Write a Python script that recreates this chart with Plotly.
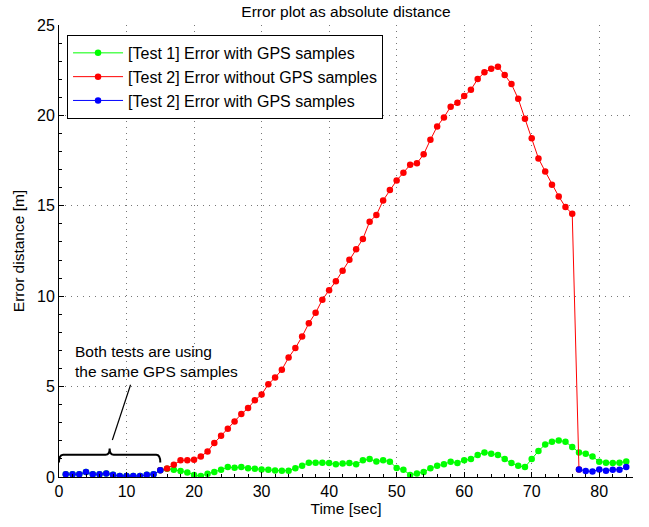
import plotly.graph_objects as go

# values
GPS_T = list(range(1, 16))
GPS_ERR = [0.15, 0.15, 0.15, 0.28, 0.15, 0.15, 0.2, 0.12, 0.06, 0.06, 0.06, 0.06, 0.12, 0.15, 0.38]

TEST1_T = list(range(1, 85))
TEST1_ERR = GPS_ERR + [
    0.45, 0.40, 0.33, 0.25, 0.11, 0.05, 0.18, 0.28, 0.40, 0.55,
    0.51, 0.55, 0.48, 0.46, 0.42, 0.40, 0.36, 0.35, 0.35, 0.48,
    0.62, 0.79, 0.79, 0.79, 0.77, 0.70, 0.75, 0.77, 0.70, 0.92,
    0.99, 0.86, 0.92, 0.85, 0.50, 0.40, 0.11, 0.20, 0.28, 0.48,
    0.62, 0.70, 0.85, 0.77, 0.92, 0.99, 1.22, 1.36, 1.29, 1.22,
    0.99, 0.77, 0.62, 0.55, 0.99, 1.44, 1.80, 1.95, 2.02, 1.95,
    1.66, 1.36, 1.29, 1.14, 0.85, 0.79, 0.77, 0.79, 0.86,
]

TEST2_NOGPS_T = list(range(15, 78))
TEST2_NOGPS_ERR = [
    0.38, 0.47, 0.68, 0.92, 0.92, 0.96, 1.14, 1.41, 1.88, 2.28,
    2.67, 3.07, 3.48, 3.81, 4.25, 4.56, 5.13, 5.50, 5.93, 6.61,
    7.13, 7.77, 8.51, 9.08, 9.81, 10.33, 10.83, 11.41, 12.01, 12.60,
    13.17, 14.12, 14.49, 15.30, 15.87, 16.40, 16.83, 17.27, 17.35, 17.85,
    18.65, 19.39, 19.89, 20.48, 20.70, 21.07, 21.42, 22.01, 22.38, 22.58,
    22.69, 22.24, 21.73, 20.92, 19.81, 18.73, 17.62, 16.90, 16.17, 15.52,
    14.93, 14.56, 0.42,
]

# None splits the two GPS-aided stretches (start and end of test 2)
TEST2_GPS_T = GPS_T + [None] + list(range(77, 85))
TEST2_GPS_ERR = GPS_ERR + [None] + [0.42, 0.33, 0.31, 0.42, 0.35, 0.40, 0.40, 0.55]

FONT = "Liberation Sans, Arial, sans-serif"

fig = go.Figure()


def add_series(x, y, color, name):
    fig.add_trace(
        go.Scatter(
            x=x,
            y=y,
            mode="lines+markers",
            name=name,
            connectgaps=False,
            line={"color": color, "width": 1},
            marker={"color": color, "size": 6.5, "line": {"width": 0}},
        ),
    )


add_series(TEST1_T, TEST1_ERR, "#00FF00", "[Test 1] Error with GPS samples")
add_series(TEST2_NOGPS_T, TEST2_NOGPS_ERR, "#FF0000", "[Test 2] Error without GPS samples")
add_series(TEST2_GPS_T, TEST2_GPS_ERR, "#0000FF", "[Test 2] Error with GPS samples")

# curly brace under the shared GPS part + pointer line
fig.add_shape(
    type="path",
    xref="x",
    yref="y",
    path="M 0,0.8 Q 0,1.23 0.6,1.23 L 6.9,1.23 Q 7.5,1.23 7.5,1.58 "
    "Q 7.5,1.23 8.1,1.23 L 14.4,1.23 Q 15,1.23 15,0.8",
    line={"color": "black", "width": 2},
)
fig.add_shape(
    type="line", xref="x", yref="y", x0=7.9, y0=2.05, x1=10.6, y1=5.1,
    line={"color": "black", "width": 1.2},
)
fig.add_annotation(
    x=2.1, y=6.4, xref="x", yref="y",
    text="Both tests are using<br>the same GPS samples",
    showarrow=False, xanchor="left", yanchor="middle", align="left",
    font={"family": FONT, "size": 15.5, "color": "black"},
)

fig.update_layout(
    width=649,
    height=527,
    autosize=False,
    hovermode=False,
    margin={"l": 59, "r": 16, "t": 25, "b": 50},
    paper_bgcolor="white",
    plot_bgcolor="white",
    font={"family": FONT, "size": 16, "color": "black"},
    title={
        "text": "Error plot as absolute distance",
        "x": 0.5, "xref": "paper", "xanchor": "center",
        "y": 1, "yref": "container", "yanchor": "top", "pad": {"t": 6},
        "font": {"size": 15.5, "family": FONT, "color": "black"},
    },
    legend={
        "x": 0.014, "y": 0.978, "xanchor": "left", "yanchor": "top",
        "bgcolor": "white", "bordercolor": "black", "borderwidth": 1,
        "font": {"size": 16, "family": FONT, "color": "black"},
        "itemwidth": 50,
    },
)

axis_common = dict(
    automargin=False,
    showline=True,
    linecolor="black",
    linewidth=1,
    ticks="inside",
    ticklen=5,
    tickcolor="black",
    showgrid=True,
    gridcolor="#777777",
    griddash="1px,5px",
    gridwidth=1,
    zeroline=False,
    tickfont={"size": 16, "family": FONT, "color": "black"},
)
fig.update_xaxes(
    range=[0, 85], dtick=10, tick0=0,
    title={"text": "Time [sec]", "standoff": 2, "font": {"size": 15.5}},
    minor={"ticks": "inside", "ticklen": 3, "dtick": 2, "tickcolor": "black", "showgrid": False},
    **axis_common,
)
fig.update_yaxes(
    range=[0, 25], dtick=5, tick0=0,
    title={"text": "Error distance [m]", "standoff": 8, "font": {"size": 15.5}},
    minor={"ticks": "inside", "ticklen": 3, "dtick": 1, "tickcolor": "black", "showgrid": False},
    **axis_common,
)

# drop the browser's default 8px body margin so the figure sits at the page origin
fig.write_html(
    "out.html",
    config={"displayModeBar": False, "staticPlot": True},
    post_script="document.body.style.margin = '0';",
)
